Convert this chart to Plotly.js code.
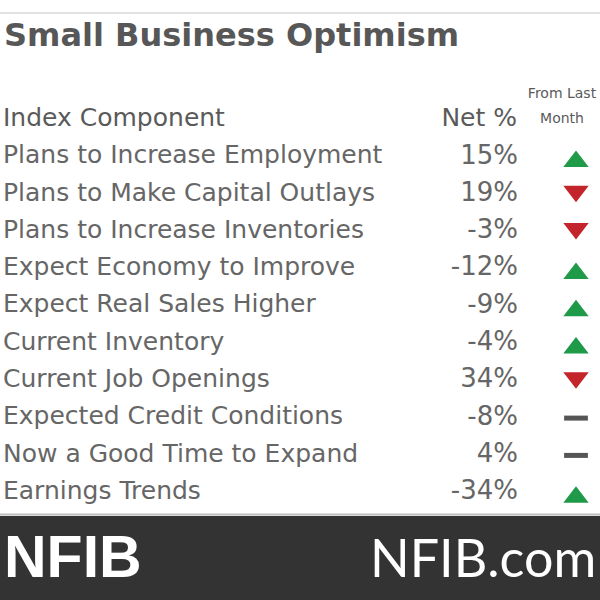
<!DOCTYPE html>
<html><head><meta charset="utf-8">
<script src="https://cdn.plot.ly/plotly-3.0.1.min.js"></script>
<style>html,body{margin:0;padding:0;background:#fff}#c{width:600px;height:600px}</style>
</head><body><div id="c"></div>
<script>
const components = [
  "Plans to Increase Employment",
  "Plans to Make Capital Outlays",
  "Plans to Increase Inventories",
  "Expect Economy to Improve",
  "Expect Real Sales Higher",
  "Current Inventory",
  "Current Job Openings",
  "Expected Credit Conditions",
  "Now a Good Time to Expand",
  "Earnings Trends"
];
const netPct = [15, 19, -3, -12, -9, -4, 34, -8, 4, -34];
const change = ["up", "down", "down", "up", "up", "up", "down", "flat", "flat", "up"];
const headers = ["Index Component", "Net %", "From Last", "Month"];
const titleText = "Small Business Optimism";
const footerLeft = "NFIB";
const footerRight = "NFIB.com";

const rows = components.map((_, i) => i);
const body = "'DejaVu Sans', sans-serif";
const txtCol = "#666666";

const symMap = {up: "triangle-up", down: "triangle-down", flat: "line-ew"};
const colMap = {up: "#1f9a48", down: "#c4252b", flat: "#555555"};
const axisFor = {up: "y2", down: "y3", flat: "y"};

const ROW0 = 157, STEP = 37.3;
function yRange(shiftPx) {
  return [(600 - ROW0 - shiftPx) / STEP, (-ROW0 - shiftPx) / STEP];
}

function markerTrace(kind) {
  const idx = rows.filter(i => change[i] === kind);
  return {
    type: "scatter", mode: "markers", cliponaxis: false, hoverinfo: "skip",
    x: idx.map(() => 576), y: idx, yaxis: axisFor[kind],
    marker: kind === "flat"
      ? {symbol: "line-ew", size: 17, line: {width: 5, color: colMap[kind]}}
      : {symbol: symMap[kind], size: 22, color: colMap[kind], line: {width: 0}}
  };
}

const traces = [
  {type: "scatter", mode: "text", cliponaxis: false, hoverinfo: "skip",
   x: rows.map(() => 3), y: rows, text: components, textposition: "middle right",
   textfont: {family: body, size: 25, color: txtCol}},
  {type: "scatter", mode: "text", cliponaxis: false, hoverinfo: "skip",
   x: rows.map(() => 518), y: rows, text: netPct.map(v => v + "%"), textposition: "middle left",
   textfont: {family: body, size: 26, color: txtCol}},
  markerTrace("up"), markerTrace("down"), markerTrace("flat"),
  {type: "scatter", mode: "text", cliponaxis: false, hoverinfo: "skip",
   x: [3, 517], y: [-1, -1], text: [headers[0], headers[1]],
   textposition: ["middle right", "middle left"],
   textfont: {family: body, size: 25, color: "#5a5a5a"}},
  {type: "scatter", mode: "text", cliponaxis: false, hoverinfo: "skip",
   x: [562, 562], y: [-1.68, -1], text: [headers[2], headers[3]],
   textposition: ["middle center", "middle center"],
   textfont: {family: body, size: 14, color: "#5a5a5a"}}
];

const pxToPaper = p => 1 - p / 600;

const layout = {
  width: 600, height: 600,
  margin: {l: 0, r: 0, t: 0, b: 0},
  paper_bgcolor: "#ffffff", plot_bgcolor: "#ffffff",
  showlegend: false,
  xaxis: {range: [0, 600], visible: false, fixedrange: true},
  yaxis: {range: yRange(0), visible: false, fixedrange: true},
  yaxis2: {range: yRange(4.5), overlaying: "y", visible: false, fixedrange: true},
  yaxis3: {range: yRange(-3), overlaying: "y", visible: false, fixedrange: true},
  shapes: [
    {type: "line", xref: "paper", yref: "paper", x0: 0, x1: 1, y0: pxToPaper(13), y1: pxToPaper(13),
     line: {color: "#e2e2e2", width: 2}},
    {type: "rect", xref: "paper", yref: "paper", x0: 0, x1: 1, y0: 0, y1: pxToPaper(516),
     fillcolor: "#333333", line: {width: 0}, layer: "above"},
    {type: "line", xref: "paper", yref: "paper", x0: 0, x1: 1, y0: pxToPaper(514.5), y1: pxToPaper(514.5),
     line: {color: "#bdbdbd", width: 2}}
  ],
  annotations: [
    {xref: "paper", yref: "paper", x: 2 / 600, y: pxToPaper(35), xanchor: "left", yanchor: "middle",
     text: "<b>" + titleText + "</b>", showarrow: false,
     font: {family: body, size: 32, color: "#575757"}},
    {xref: "paper", yref: "paper", x: 2 / 600, y: pxToPaper(557), xanchor: "left", yanchor: "middle",
     text: "<b>" + footerLeft + "</b>", showarrow: false,
     font: {family: "'Liberation Sans', Arial, sans-serif", size: 59, color: "#ffffff"}},
    {xref: "paper", yref: "paper", x: 368 / 600, y: pxToPaper(557), xanchor: "left", yanchor: "middle",
     text: footerRight, showarrow: false,
     font: {family: "Lato, sans-serif", size: 52, color: "#ffffff"}}
  ]
};

Plotly.newPlot("c", traces, layout, {staticPlot: true, displayModeBar: false});
</script></body></html>
